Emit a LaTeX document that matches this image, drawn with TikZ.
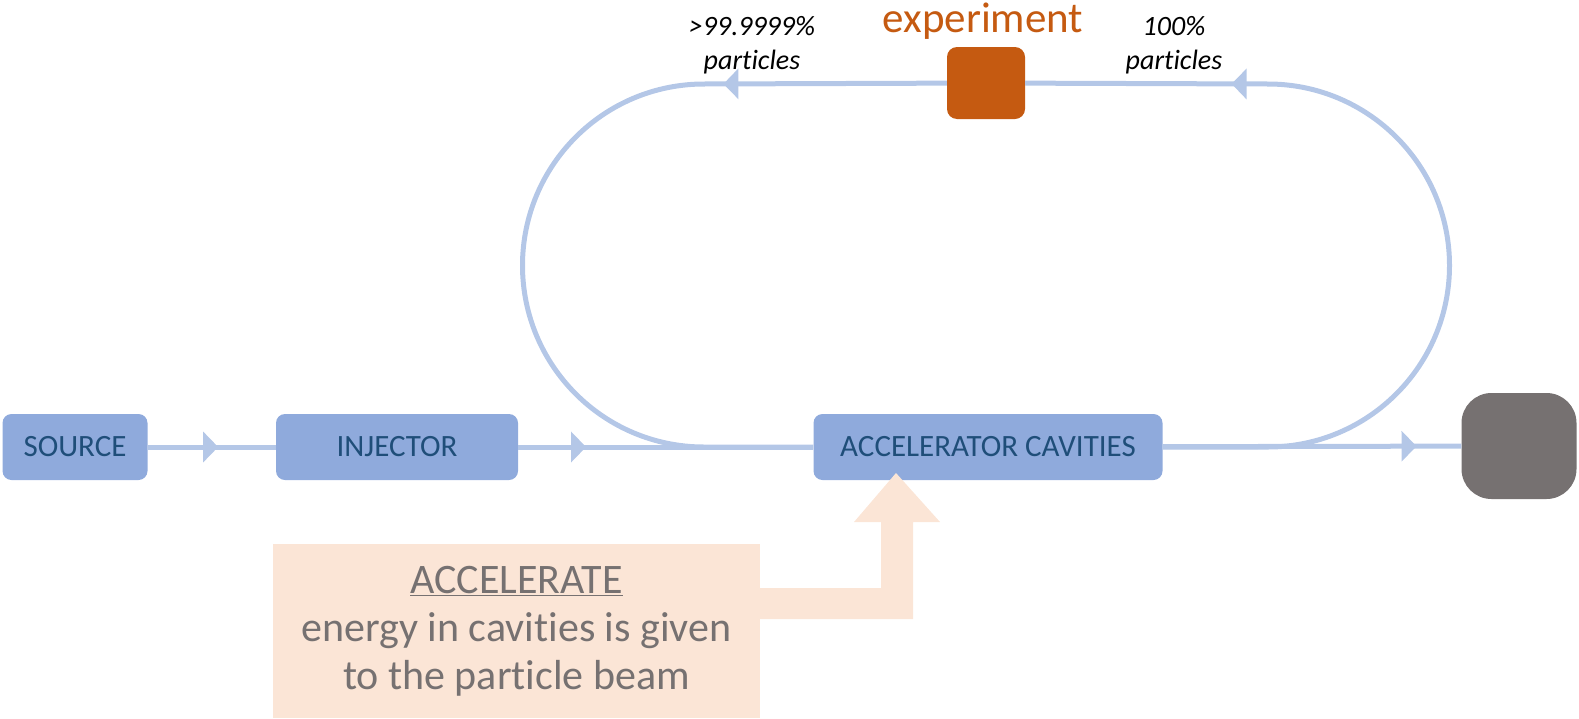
\documentclass[tikz,border=0pt]{standalone}
\usepackage{fontspec}
\setmainfont[Ligatures=NoCommon]{Carlito}
\usetikzlibrary{arrows.meta,decorations.markings}
\definecolor{beamblue}{HTML}{B4C7E7}
\definecolor{boxblue}{HTML}{8FAADC}
\definecolor{boxtext}{HTML}{1F4E79}
\definecolor{exporange}{HTML}{C55A11}
\definecolor{dumpgrey}{HTML}{767171}
\definecolor{peach}{HTML}{FBE5D6}

\begin{document}
\begin{tikzpicture}[x=1pt,y=-1pt,
beam/.style={draw=beamblue,line width=5pt},
arrowat/.style={postaction={decorate},decoration={markings,
    mark=at position #1 with {\arrow{Triangle[length=15pt,width=30pt]}}}},
block/.style={rectangle,rounded corners=9pt,fill=boxblue,text=boxtext,
    font=\fontsize{31}{36}\selectfont,minimum height=66pt,inner sep=0pt}]
\useasboundingbox (0,0) rectangle (1579,718);
\node[block,minimum width=145pt] (source) at (75,447) {SOURCE};
\node[block,minimum width=242pt] (injector) at (397,447) {INJECTOR};
\node[block,minimum width=349pt] (cavities) at (988,447) {ACCELERATOR CAVITIES};
\node[rectangle,rounded corners=30pt,fill=dumpgrey,minimum width=115pt,
    minimum height=106pt] (dump) at (1519,446) {};
\node[rectangle,rounded corners=10pt,fill=exporange,minimum width=78pt,
    minimum height=72pt] (expbox) at (986,83) {};
\coordinate (rb) at (1268,447);
\coordinate (rt) at (1268,84);
\coordinate (lt) at (704,84);
\coordinate (lb) at (704,447);
\draw[beam,arrowat=0.55] (source) -- (injector);
\draw[beam,arrowat=0.23] (injector) -- (cavities);
\draw[beam,arrowat=0.85] (cavities) -- (dump);
\draw[beam] (cavities.east) -- (rb) arc[start angle=-90,end angle=90,radius=181.5pt];
\draw[beam,arrowat=0.15] (rt) -- (expbox);
\draw[beam,arrowat=0.92] (expbox) -- (lt);
\draw[beam] (lt) arc[start angle=90,end angle=270,radius=181.5pt] -- (cavities.west);
\node[fill=peach,minimum width=487pt,minimum height=174pt,text=dumpgrey,
    align=center,font=\fontsize{42}{48}\selectfont] (note) at (516.5,631)
    {\underline{ACCELERATE}\\energy in cavities is given\\to the particle beam};
\fill[peach] (760,588) -- (881,588) -- (881,522) -- (854,522) -- (896,473)
    -- (940,522) -- (913,522) -- (913,619) -- (760,619) -- cycle;
\node[font=\itshape\fontsize{28}{34}\selectfont,align=center] (lossl) at (752,45)
    {>99.9999\%\\particles};
\node[font=\itshape\fontsize{28}{34}\selectfont,align=center] (fulll) at (1174,45)
    {100\%\\particles};
\node[text=exporange,font=\fontsize{43}{50}\selectfont] (explabel) at (983,21) {experiment};
\end{tikzpicture}
\end{document}
